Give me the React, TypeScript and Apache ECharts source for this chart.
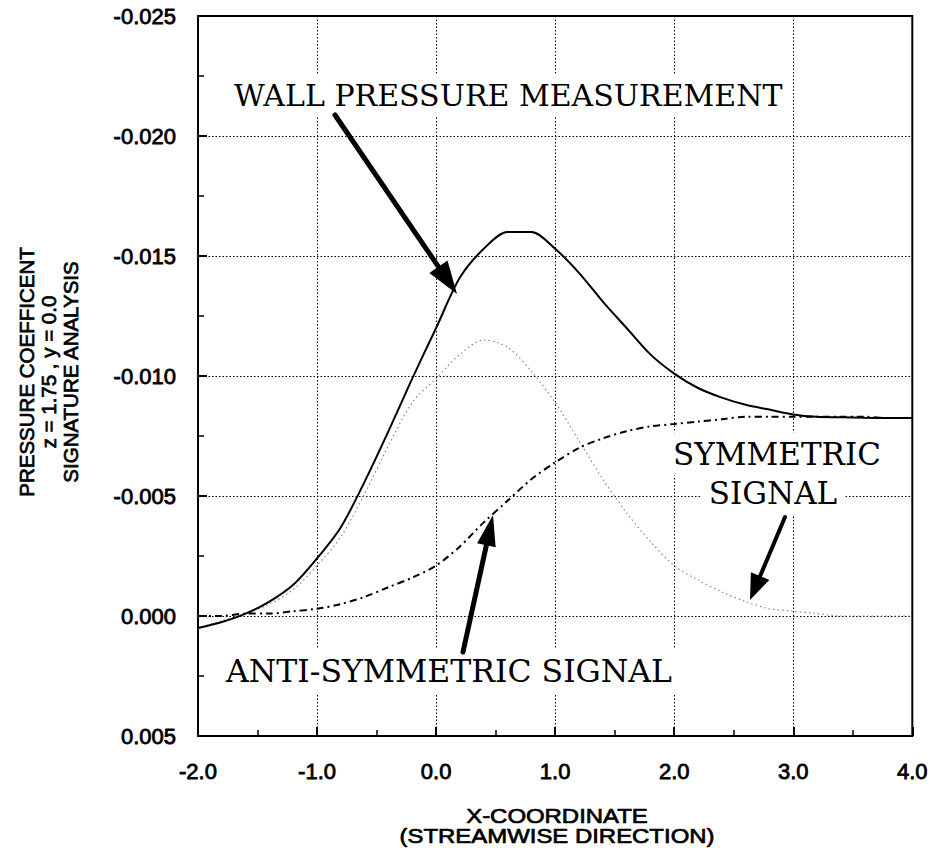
import React, { useEffect, useRef } from "react";
import * as echarts from "echarts";

const xCoords = [-2.0, -1.8, -1.6, -1.4, -1.2, -1.0, -0.8, -0.6, -0.4, -0.2, 0.0, 0.2, 0.4, 0.6, 0.8, 1.0, 1.2, 1.4, 1.6, 1.8, 2.0, 2.2, 2.4, 2.6, 2.8, 3.0, 3.2, 3.4, 3.6, 3.8, 4.0];
const wallPressure = [0.0005, 0.00025, -0.0001, -0.0006, -0.0013, -0.0024, -0.0037, -0.0056, -0.0077, -0.0099, -0.0120, -0.0141, -0.0153, -0.0160, -0.0160, -0.0153, -0.0143, -0.0131, -0.0120, -0.0109, -0.0101, -0.0095, -0.0091, -0.0088, -0.0086, -0.0084, -0.0083, -0.00828, -0.00826, -0.00825, -0.00825];
const symmetricSignal = [0.0005, 0.0002, -0.0001, -0.0005, -0.0011, -0.0021, -0.0033, -0.0051, -0.0071, -0.0089, -0.0099, -0.0109, -0.0115, -0.0112, -0.0102, -0.0089, -0.0073, -0.0057, -0.0043, -0.0031, -0.0021, -0.0015, -0.0010, -0.0006, -0.0003, -0.0002, -0.0001, 0.0, 0.0, 0.0, 0.0];
const antiSymmetricSignal = [0.0, 0.0, -0.0001, -0.0001, -0.0002, -0.0003, -0.0005, -0.0008, -0.0012, -0.0016, -0.0021, -0.0029, -0.0039, -0.0048, -0.0057, -0.0064, -0.0070, -0.0074, -0.0077, -0.0079, -0.0080, -0.0081, -0.0082, -0.0083, -0.0083, -0.0083, -0.0083, -0.0083, -0.0083, -0.00825, -0.00825];

const yTitleLines = ["PRESSURE COEFFICENT", "z = 1.75 , y = 0.0", "SIGNATURE ANALYSIS"];
const xTitleLines = ["X-COORDINATE", "(STREAMWISE DIRECTION)"];

const SANS = "'Liberation Sans', Arial, Helvetica, sans-serif";
const SERIF = "'DejaVu Serif', 'Century Schoolbook', serif";

function arrowEls(tail: number[], tip: number[], headLen: number, headW: number, shaftW: number) {
  const dx = tip[0] - tail[0];
  const dy = tip[1] - tail[1];
  const L = Math.hypot(dx, dy);
  const ux = dx / L, uy = dy / L;
  const px = -uy, py = ux;
  const bx = tip[0] - ux * headLen, by = tip[1] - uy * headLen;
  return [
    {
      type: "line",
      z: 100,
      shape: { x1: tail[0], y1: tail[1], x2: bx + ux * 3, y2: by + uy * 3 },
      style: { stroke: "#000", lineWidth: shaftW, lineCap: "round" },
    },
    {
      type: "polygon",
      z: 100,
      shape: {
        points: [
          [tip[0], tip[1]],
          [bx + (px * headW) / 2, by + (py * headW) / 2],
          [bx - (px * headW) / 2, by - (py * headW) / 2],
        ],
      },
      style: { fill: "#000" },
    },
  ];
}

function serifLabel(text: string, x: number, y: number, align: string, size: number) {
  return {
    type: "text",
    z: 90,
    x,
    y,
    style: {
      text,
      fontFamily: SERIF,
      fontSize: size,
      fill: "#000",
      align,
      verticalAlign: "middle",
      textAlign: align,
      textVerticalAlign: "middle",
      backgroundColor: "#fff",
      padding: [6, 8, 6, 8],
    },
  };
}

function sansText(text: string, x: number, y: number, size: number, lineHeight: number, rotation: number, scaleX: number) {
  return {
    type: "text",
    x,
    y,
    rotation,
    scaleX,
    style: {
      text,
      fontFamily: SANS,
      fontSize: size,
      lineHeight,
      fill: "#000",
      stroke: "#000",
      lineWidth: 0.7,
      align: "center",
      verticalAlign: "middle",
      textAlign: "center",
      textVerticalAlign: "middle",
    },
  };
}

export default function App() {
  const ref = useRef<HTMLDivElement>(null);
  useEffect(() => {
    if (!ref.current) return;
    const chart = echarts.init(ref.current, undefined, { renderer: "svg" });
    const pairs = (vals: number[]) => xCoords.map((x, i) => [x, vals[i]]);
    const axisLabelStyle = {
      color: "#000",
      fontFamily: SANS,
      fontSize: 22,
      textBorderColor: "#000",
      textBorderWidth: 0.8,
    };
    const graphic: any[] = [
      serifLabel("WALL PRESSURE MEASUREMENT", 226, 95, "left", 30),
      serifLabel("ANTI-SYMMETRIC SIGNAL", 218, 671, "left", 31.5),
      serifLabel("SYMMETRIC", 777, 454, "center", 31),
      serifLabel("SIGNAL", 773, 493, "center", 31),
      ...arrowEls([335, 115], [457, 294], 33, 22, 5),
      ...arrowEls([463, 652], [493, 515], 31, 19, 5),
      ...arrowEls([785, 517], [750, 600], 26, 20, 4),
      sansText(yTitleLines.join("\n"), 48, 372, 20.5, 22, Math.PI / 2, 1),
      sansText(xTitleLines.join("\n"), 557, 826, 21, 20, 0, 1.14),
    ];
    chart.setOption({
      animation: false,
      backgroundColor: "#fff",
      grid: {
        left: 198,
        top: 16,
        width: 720,
        height: 720,
        show: true,
        borderColor: "#000",
        borderWidth: 2,
        backgroundColor: "transparent",
      },
      xAxis: {
        type: "value",
        min: -2,
        max: 4,
        interval: 1,
        axisLine: { show: true, onZero: false, lineStyle: { color: "#000", width: 2 } },
        axisTick: { show: true, inside: true, length: 9, lineStyle: { color: "#000", width: 2 } },
        minorTick: { show: true, splitNumber: 2, length: 6, lineStyle: { color: "#000", width: 1.5 } },
        splitLine: { show: true, lineStyle: { color: "#000", width: 1, type: [1.5, 2] } },
        axisLabel: { ...axisLabelStyle, margin: 24, formatter: (v: number) => v.toFixed(1) },
      },
      yAxis: {
        type: "value",
        inverse: true,
        min: -0.025,
        max: 0.005,
        interval: 0.005,
        axisLine: { show: true, onZero: false, lineStyle: { color: "#000", width: 2 } },
        axisTick: { show: true, inside: true, length: 9, lineStyle: { color: "#000", width: 2 } },
        minorTick: { show: true, splitNumber: 2, length: 6, lineStyle: { color: "#000", width: 1.5 } },
        splitLine: { show: true, lineStyle: { color: "#000", width: 1, type: [1.5, 2] } },
        axisLabel: {
          ...axisLabelStyle,
          margin: 22,
          formatter: (v: number) => (Math.abs(v) < 1e-9 ? 0 : v).toFixed(3),
        },
      },
      series: [
        {
          name: "WALL PRESSURE MEASUREMENT",
          type: "line",
          data: pairs(wallPressure),
          showSymbol: false,
          smooth: 0.3,
          lineStyle: { color: "#000", width: 2 },
          z: 5,
        },
        {
          name: "SYMMETRIC SIGNAL",
          type: "line",
          data: pairs(symmetricSignal),
          showSymbol: false,
          smooth: 0.3,
          lineStyle: { color: "#888", width: 1.2, type: [1.5, 3] },
          z: 4,
        },
        {
          name: "ANTI-SYMMETRIC SIGNAL",
          type: "line",
          data: pairs(antiSymmetricSignal),
          showSymbol: false,
          smooth: 0.3,
          lineStyle: { color: "#000", width: 2, type: [7, 4, 2, 4] },
          z: 4,
        },
      ],
      graphic,
    });
    return () => chart.dispose();
  }, []);
  return (
    <div
      ref={ref}
      style={{ position: "fixed", left: 0, top: 0, width: 931, height: 856, background: "#fff" }}
    />
  );
}
